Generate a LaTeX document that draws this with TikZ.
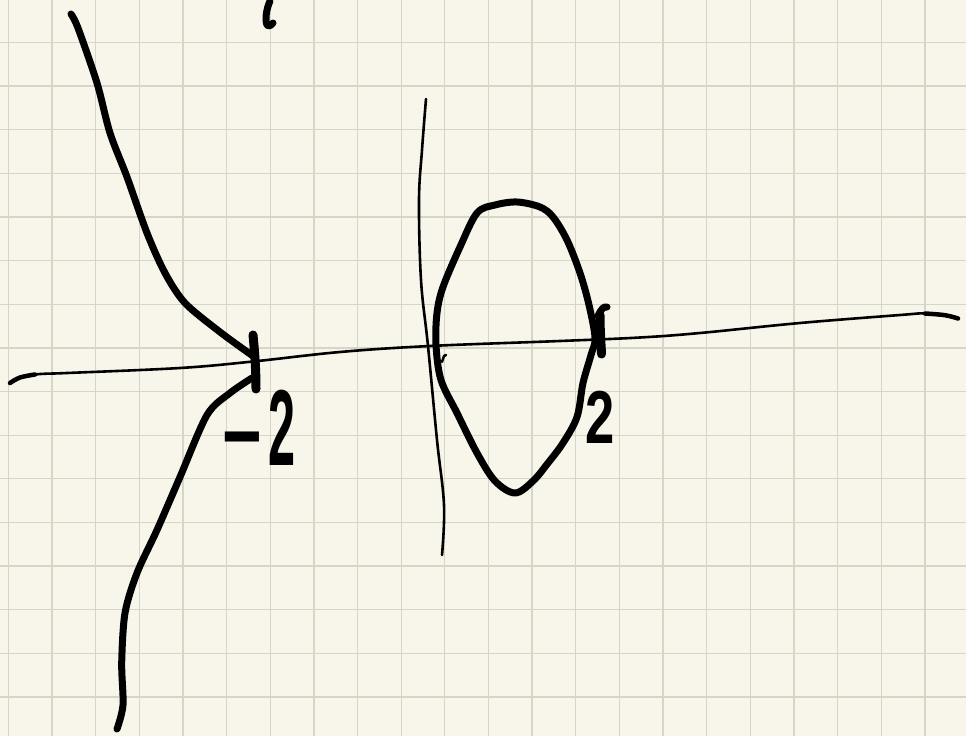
\documentclass[tikz,border=0pt]{standalone}
\usepackage{fontspec}
\setmainfont{Liberation Sans}
\begin{document}
\begin{tikzpicture}[x=1pt,y=-1pt,
  paper/.style={fill={rgb,255:red,248;green,246;blue,234}},
  gridline/.style={draw={rgb,255:red,214;green,213;blue,200},line width=1.3pt},
  thinink/.style={draw=black,line width=2.6pt,line cap=round,line join=round},
  ink/.style={draw=black,line width=7pt,line cap=round,line join=round},
  heavyink/.style={draw=black,line width=9pt,line cap=round,line join=round},
  numlabel/.style={inner sep=0pt,text=black}]
\fill[paper] (0,0) rectangle (966,736);
\useasboundingbox (0,0) rectangle (966,736);
% grid
\foreach \i in {0,...,22} \draw[gridline] ({8.3+43.65*\i},0) -- ({8.3+43.65*\i},736);
\foreach \j in {1,...,17} \draw[gridline] (0,{-1.35+43.65*\j}) -- (966,{-1.35+43.65*\j});
% x axis
\draw[thinink] plot[smooth,tension=0.6] coordinates {(10,383) (22,377) (40,374) (67,373) (180,368) (253,361.5) (340,352) (430,346) (560,341) (640,337.5) (700,333) (800,323) (900,315) (925,313.3) (945,315) (958,318.5)};
\draw[draw=black,line width=4.5pt,line cap=round] plot[smooth,tension=0.6] coordinates {(10,383) (20,377.5) (35,374.5)};
\draw[draw=black,line width=4.5pt,line cap=round] plot[smooth,tension=0.6] coordinates {(925,313.5) (945,315.2) (958,318.5)};
% y axis
\draw[thinink] plot[smooth,tension=0.6] coordinates {(426,99) (422,150) (419,200) (421,280) (428,346) (437,440) (444,505) (442,555)};
% upper left branch
\draw[ink] plot[smooth,tension=0.5] coordinates {(71,14) (78,28) (97,83) (110,133) (127,177) (147,233) (165,273) (185,303) (220,332) (253,356)};
% lower left branch
\draw[ink] plot[smooth,tension=0.5] coordinates {(252,378) (230,393) (207,415) (180,477) (157,530) (137,573) (125,613) (121.7,663) (123,705) (117,729)};
% tick at -2
\draw[heavyink] (253,335) .. controls (255,355) and (256,372) .. (256,389);
% oval
\draw[ink] plot[smooth cycle,tension=0.55] coordinates {(517,202) (540,207) (553,217) (567,240) (580,273) (589,305) (595,338) (591,355) (583,383) (577,417) (563,443) (548,463) (533,481) (515,493) (495,481) (477,453) (457,413) (441,380) (436,345) (437,313) (443,287) (460,247) (477,213) (495,205)};
% tick at 2
\draw[ink] (598,316) .. controls (601,309) and (604,306) .. (607,307);
\draw[heavyink] (600,315) .. controls (600,330) and (601,343) .. (601.5,354);
% small mark near origin
\draw[draw=black,line width=2.5pt,line cap=round] (442,362) -- (444,356) -- (446,355);
% mark at top
\draw[ink] (270,1) .. controls (266,10) and (265,20) .. (267,25) .. controls (269,27) and (272,25) .. (273,23);
% labels
\node[numlabel,anchor=base west,xscale=0.45,font=\fontsize{108}{108}\selectfont\bfseries] (lminus) at (222,465) {\raisebox{-2pt}{\scalebox{1.4}[0.85]{−}}\kern14pt 2};
\node[numlabel,anchor=base west,xscale=0.7,font=\fontsize{75}{75}\selectfont\bfseries] (ltwo) at (585,443) {2};
\end{tikzpicture}
\end{document}
